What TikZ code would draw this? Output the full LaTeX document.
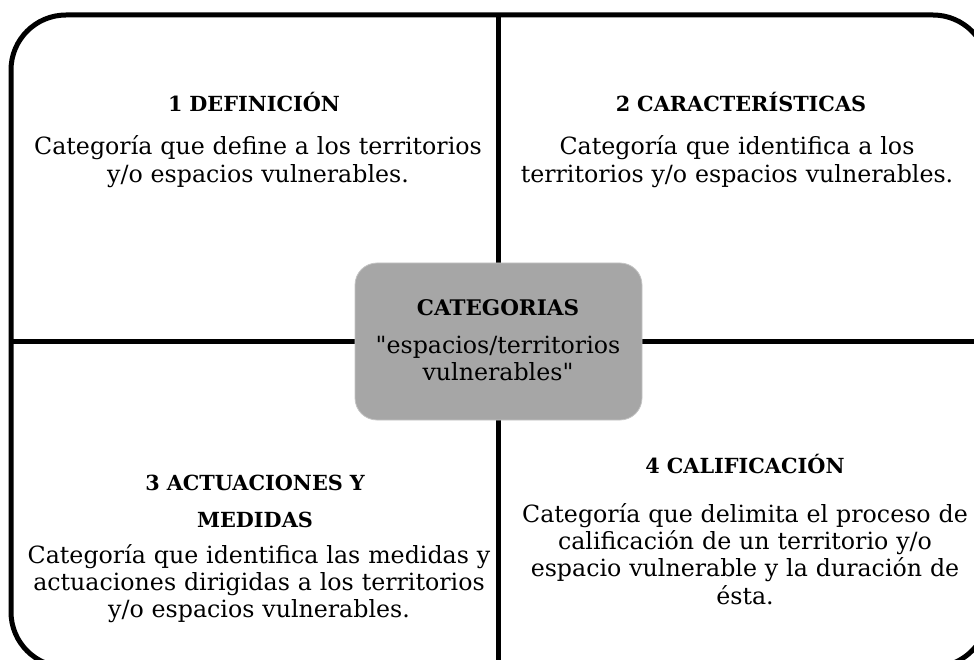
\documentclass[tikz,border=0pt]{standalone}
\usepackage{fontspec}
\setmainfont{DejaVu Serif}[Ligatures=TeXOff]
\definecolor{boxgray}{RGB}{166,166,166}
\definecolor{boxedge}{RGB}{196,196,196}
\tikzset{
    frame/.style={line width=5pt,rounded corners=55pt},
    divider/.style={line width=5pt},
    heading/.style={anchor=base,inner sep=0pt,align=center,text width=460pt,font=\bfseries\fontsize{20.8}{37}\selectfont},
    desc/.style={anchor=base,inner sep=0pt,align=center,text width=470pt,font=\fontsize{23.7}{27.4}\selectfont},
    catbox/.style={fill=boxgray,draw=boxedge,line width=0.8pt,rounded corners=22pt,minimum width=287pt,minimum height=157pt,inner sep=0pt}
}
\begin{document}
\begin{tikzpicture}[x=1pt,y=-1pt]
    \useasboundingbox (0,0) rectangle (974,660);
    \clip (0,0) rectangle (974,660);

    % outer frame and the two dividers
    \draw[frame] (11,15) rectangle (988,667);
    \coordinate (ntop) at (498,15);
    \coordinate (nbot) at (498,667);
    \coordinate (wleft) at (11,341);
    \coordinate (eright) at (988,341);
    \draw[divider] (ntop) -- (nbot);
    \draw[divider] (wleft) -- (eright);

    % centre
    \node[catbox] at (498.5,341.5) (cat) {};
    \node[heading,text width=280pt,font=\bfseries\fontsize{21.5}{26}\selectfont] at (498,315) (cattitle) {CATEGORIAS};
    \node[desc,text width=280pt,font=\fontsize{23.7}{27}\selectfont] at (498,353) (catdesc) {"espacios/territorios\\ vulnerables"};

    % 1
    \node[heading] at (254,112) (t1) {1 DEFINICIÓN};
    \node[desc] at (258,155) (d1) {Categoría que define a los territorios\\ y/o espacios vulnerables.};

    % 2
    \node[heading] at (741,112) (t2) {2 CARACTERÍSTICAS};
    \node[desc] at (737,155) (d2) {Categoría que identifica a los\\ territorios y/o espacios vulnerables.};

    % 3
    \node[heading] at (255,490) (t3) {3 ACTUACIONES Y\\ MEDIDAS};
    \node[desc] at (259,563) (d3) {Categoría que identifica las medidas y\\ actuaciones dirigidas a los territorios\\ y/o espacios vulnerables.};

    % 4
    \node[heading] at (745,473) (t4) {4 CALIFICACIÓN};
    \node[desc] at (745,522) (d4) {Categoría que delimita el proceso de\\ calificación de un territorio y/o\\ espacio vulnerable y la duración de\\ ésta.};
\end{tikzpicture}
\end{document}
